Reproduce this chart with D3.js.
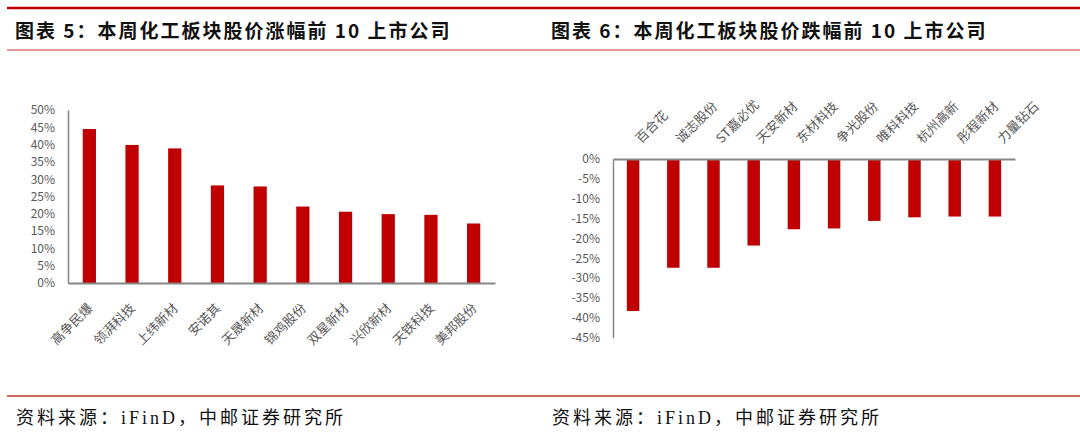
<!DOCTYPE html>
<html>
<head>
<meta charset="utf-8">
<script src="https://cdn.jsdelivr.net/npm/d3@7"></script>
<style>
  body { margin: 0; background: #fff; }
  svg { display: block; }
</style>
</head>
<body>
<div id="chart"></div>
<script>
// Data (percent)
const riseNames = ["高争民爆", "领湃科技", "上纬新材", "安诺其", "天晟新材", "锦鸡股份", "双星新材", "兴欣新材", "天铁科技", "美邦股份"];
const riseValues = [44.5, 39.9, 38.9, 28.2, 27.9, 22.1, 20.6, 19.9, 19.7, 17.2];
const riseTicks = [0, 5, 10, 15, 20, 25, 30, 35, 40, 45, 50];

const fallNames = ["百合花", "诚志股份", "ST嘉必优", "天安新材", "东材科技", "争光股份", "唯科科技", "杭州高新", "彤程新材", "力量钻石"];
const fallValues = [-38.3, -27.4, -27.4, -21.8, -17.7, -17.5, -15.6, -14.7, -14.5, -14.5];
const fallTicks = [0, -5, -10, -15, -20, -25, -30, -35, -40, -45];

const titles = ["图表 5：本周化工板块股价涨幅前 10 上市公司", "图表 6：本周化工板块股价跌幅前 10 上市公司"];
const source = "资料来源：iFinD，中邮证券研究所";

const W = 1080, H = 435;
const barColor = "#c00000";
const axisColor = "#868686";
const labelColor = "#595959";
const labelFont = "'Noto Sans CJK SC', 'Noto Sans', sans-serif";

const svg = d3.select("#chart")
    .append("svg")
    .attr("width", W)
    .attr("height", H);

// header / footer rules
svg.append("line").attr("x1", 7).attr("x2", W).attr("y1", 8).attr("y2", 8)
    .attr("stroke", "#c00000").attr("stroke-width", 2.5);
svg.append("line").attr("x1", 7).attr("x2", W).attr("y1", 50).attr("y2", 50)
    .attr("stroke", "#e59a9a").attr("stroke-width", 2);
svg.append("line").attr("x1", 7).attr("x2", W).attr("y1", 396).attr("y2", 396)
    .attr("stroke", "#c0392b").attr("stroke-width", 1.5);

// titles and sources
[15, 551].forEach((x, i) => {
    svg.append("text")
        .attr("x", x)
        .attr("y", 38)
        .style("font-family", "'Noto Sans CJK SC', sans-serif")
        .style("font-weight", "700")
        .style("font-size", "19px")
        .style("letter-spacing", "2px")
        .attr("fill", "#111")
        .text(titles[i]);

    svg.append("text")
        .attr("x", x + 1)
        .attr("y", 424)
        .style("font-family", "'Liberation Serif', 'Noto Sans CJK SC', serif")
        .style("font-size", "18px")
        .style("letter-spacing", "3px")
        .attr("fill", "#111")
        .text(source);
});

const pct = d => d + "%";

// ---- left chart: gainers ----
const x1 = d3.scaleBand()
    .domain(riseNames)
    .range([68, 495])
    .paddingInner(0.69)
    .paddingOuter(0.345);

const y1 = d3.scaleLinear()
    .domain([0, 50])
    .range([283, 110]);

const left = svg.append("g");

left.append("g")
    .attr("transform", "translate(68,0)")
    .call(d3.axisLeft(y1).tickValues(riseTicks).tickFormat(pct).tickSize(0).tickPadding(13))
    .call(g => g.select(".domain").attr("stroke", axisColor).attr("stroke-width", 1.5))
    .selectAll("text")
    .style("font-family", labelFont)
    .style("font-size", "12px")
    .attr("fill", labelColor);

left.selectAll(".bar")
    .data(riseValues)
    .enter().append("rect")
    .attr("class", "bar")
    .attr("x", (d, i) => x1(riseNames[i]))
    .attr("y", d => y1(d))
    .attr("width", x1.bandwidth())
    .attr("height", d => y1(0) - y1(d))
    .attr("fill", barColor);

left.append("g")
    .attr("transform", `translate(0,${y1(0)})`)
    .call(d3.axisBottom(x1).tickSize(0).tickFormat(""))
    .call(g => g.select(".domain").attr("stroke", axisColor).attr("stroke-width", 2));

left.selectAll(".cat")
    .data(riseNames)
    .enter().append("text")
    .attr("class", "cat")
    .attr("transform", d => `translate(${x1(d) + x1.bandwidth() / 2 + 4},309) rotate(-45)`)
    .attr("text-anchor", "end")
    .style("font-family", labelFont)
    .style("font-size", "13px")
    .attr("fill", labelColor)
    .text(d => d);

// ---- right chart: losers ----
const x2 = d3.scaleBand()
    .domain(fallNames)
    .range([613, 1015])
    .paddingInner(0.69)
    .paddingOuter(0.345);

const y2 = d3.scaleLinear()
    .domain([-45, 0])
    .range([337.6, 159]);

const right = svg.append("g");

right.append("g")
    .attr("transform", "translate(613,0)")
    .call(d3.axisLeft(y2).tickValues(fallTicks).tickFormat(pct).tickSize(0).tickPadding(13))
    .call(g => g.select(".domain").attr("stroke", axisColor).attr("stroke-width", 1.5))
    .selectAll("text")
    .style("font-family", labelFont)
    .style("font-size", "12px")
    .attr("fill", labelColor);

right.selectAll(".bar")
    .data(fallValues)
    .enter().append("rect")
    .attr("class", "bar")
    .attr("x", (d, i) => x2(fallNames[i]))
    .attr("y", y2(0))
    .attr("width", x2.bandwidth())
    .attr("height", d => y2(d) - y2(0))
    .attr("fill", barColor);

right.append("g")
    .attr("transform", `translate(0,${y2(0)})`)
    .call(d3.axisBottom(x2).tickSize(0).tickFormat(""))
    .call(g => g.select(".domain").attr("stroke", axisColor).attr("stroke-width", 2));

right.selectAll(".cat")
    .data(fallNames)
    .enter().append("text")
    .attr("class", "cat")
    .attr("transform", d => `translate(${x2(d) + x2.bandwidth() / 2 + 8},144) rotate(-45)`)
    .attr("text-anchor", "start")
    .style("font-family", labelFont)
    .style("font-size", "13px")
    .attr("fill", labelColor)
    .text(d => d);
</script>
</body>
</html>
